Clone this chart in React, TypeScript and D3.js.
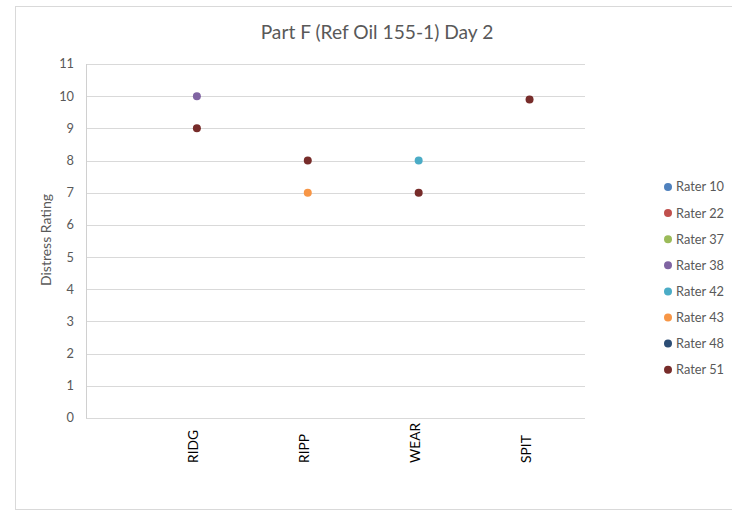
import React from "react";
import * as d3 from "d3";

// Categories along the x axis (placed at positions 1..4)
const categories = ["RIDG", "RIPP", "WEAR", "SPIT"];
const yTicks = [0, 1, 2, 3, 4, 5, 6, 7, 8, 9, 10, 11];

const raterNames = ["Rater 10", "Rater 22", "Rater 37", "Rater 38", "Rater 42", "Rater 43", "Rater 48", "Rater 51"];
const raterColors = ["#4F81BD", "#C0504D", "#9BBB59", "#8064A2", "#4BACC6", "#F79646", "#2C4D75", "#772C2A"];

// Ratings per rater, one value per category (null = not rated)
const rater10: (number | null)[] = [null, null, null, null];
const rater22: (number | null)[] = [null, null, null, null];
const rater37: (number | null)[] = [null, null, null, null];
const rater38: (number | null)[] = [10, null, null, null];
const rater42: (number | null)[] = [null, null, 8, null];
const rater43: (number | null)[] = [null, 7, null, null];
const rater48: (number | null)[] = [null, null, null, null];
const rater51: (number | null)[] = [9, 8, 7, 9.9];

const seriesValues = [rater10, rater22, rater37, rater38, rater42, rater43, rater48, rater51];

const FONT = "Lato, 'Liberation Sans', sans-serif";

export default function App() {
  const W = 732;
  const H = 510;
  const plot = { left: 86, right: 585, top: 64, bottom: 418 };

  const x = d3.scaleLinear().domain([0, 4.5]).range([plot.left, plot.right]);
  const y = d3.scaleLinear().domain([0, 11]).range([plot.bottom, plot.top]);

  const points = seriesValues.flatMap((vals, si) =>
    vals
      .map((v, ci) => (v == null ? null : { si, ci, v }))
      .filter((p): p is { si: number; ci: number; v: number } => p !== null)
  );

  const legendX = 668;
  const legendY0 = 187;
  const legendStep = 26.1;

  return (
    <div style={{ position: "fixed", left: 0, top: 0 }}>
      <svg width={W} height={H} style={{ display: "block", background: "#fff" }}>
        <rect x={15.5} y={6.5} width={W} height={503} fill="#fff" stroke="#d9d9d9" strokeWidth={1} />

        <text x={377} y={38.5} textAnchor="middle" fontFamily={FONT} fontSize={19.2} fill="#595959">
          Part F (Ref Oil 155-1) Day 2
        </text>

        {yTicks.map((t) => (
          <g key={t}>
            <line
              x1={plot.left}
              x2={plot.right}
              y1={Math.round(y(t)) + 0.5}
              y2={Math.round(y(t)) + 0.5}
              stroke="#d9d9d9"
              strokeWidth={1}
            />
            <text
              x={74}
              y={y(t)}
              dy="0.35em"
              textAnchor="end"
              fontFamily={FONT}
              fontSize={12.8}
              fill="#595959"
            >
              {t}
            </text>
          </g>
        ))}
        <line x1={plot.left + 0.5} x2={plot.left + 0.5} y1={plot.top} y2={plot.bottom + 0.5} stroke="#d0d0d0" strokeWidth={1} />

        <text
          transform={`translate(51, 240) rotate(-90)`}
          textAnchor="middle"
          fontFamily={FONT}
          fontSize={14}
          fill="#595959"
        >
          Distress Rating
        </text>

        {categories.map((c, i) => (
          <text
            key={c}
            transform={`translate(${x(i + 1) + 1.5}, 463) rotate(-90)`}
            textAnchor="start"
            fontFamily={FONT}
            fontSize={13.8}
            fill="#000"
          >
            {c}
          </text>
        ))}

        {points.map((p) => (
          <circle
            key={`${p.si}-${p.ci}`}
            cx={x(p.ci + 1)}
            cy={y(p.v)}
            r={4}
            fill={raterColors[p.si]}
          />
        ))}

        {raterNames.map((name, i) => (
          <g key={name} transform={`translate(${legendX}, ${legendY0 + i * legendStep})`}>
            <circle cx={0} cy={0} r={4} fill={raterColors[i]} />
            <text x={8} y={0} dy="0.35em" fontFamily={FONT} fontSize={12.8} fill="#595959">
              {name}
            </text>
          </g>
        ))}
      </svg>
    </div>
  );
}
